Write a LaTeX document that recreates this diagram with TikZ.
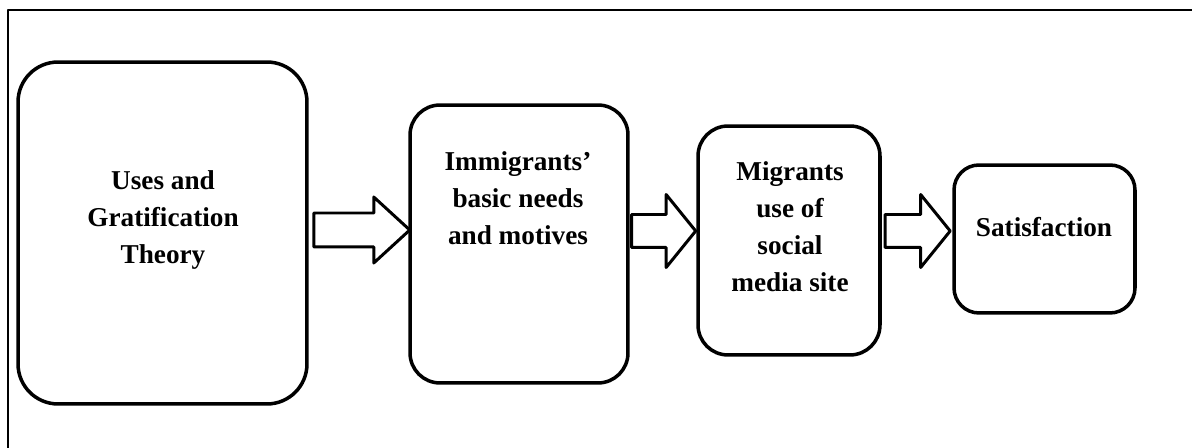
\documentclass[tikz,border=0pt]{standalone}
\usepackage{fontspec}
\setmainfont{Liberation Serif}
\usetikzlibrary{shapes.arrows}

\begin{document}
\begin{tikzpicture}[x=0.02cm, y=-0.02cm, line join=round,
    frame/.style={line width=1.2pt},
    stage/.style={draw, line width=2pt, rounded corners=0.6cm, inner sep=0pt},
    caption/.style={align=center, font=\fontsize{15.5}{21}\selectfont\bfseries},
    fatarrow/.style={draw, line width=1.7pt, single arrow, inner xsep=0pt,
      single arrow head indent=0pt, xshift=-0.12cm}]
  \useasboundingbox (0,0) rectangle (1192,448);
  \draw[frame] (8,448) -- (8,10) -- (1192,10);
  % stages
  \node[stage, rounded corners=0.8cm, minimum width=5.78cm, minimum height=6.84cm] (b1) at (162.5,233) {};
  \node[stage, minimum width=4.36cm, minimum height=5.56cm] (b2) at (519,244) {};
  \node[stage, minimum width=3.64cm, minimum height=4.58cm] (b3) at (789,240.5) {};
  \node[stage, rounded corners=0.5cm, minimum width=3.62cm, minimum height=2.96cm] (b4) at (1044.5,239) {};
  \node[caption] (t1) at (163,220) {Uses and\\Gratification\\Theory};
  \node[caption] (t2) at (518,198) {Immigrants'\\basic needs\\and motives};
  \node[caption] (t3) at (790,227) {Migrants\\use of\\social\\media site};
  \node[caption] (t4) at (1044,227) {Satisfaction};
  % arrows
  \path (b1.east |- 0,230) -- (b2.west |- 0,230)
    node[midway, fatarrow, minimum height=1.92cm, inner ysep=0.31cm,
      single arrow head extend=0.32cm, single arrow tip angle=85] (a1) {};
  \path (b2.east |- 0,231) -- (b3.west |- 0,231)
    node[midway, fatarrow, minimum height=1.28cm, inner ysep=0.3cm,
      single arrow head extend=0.4cm, single arrow tip angle=102] (a2) {};
  \path (b3.east |- 0,231) -- (b4.west |- 0,231)
    node[midway, fatarrow, minimum height=1.3cm, inner ysep=0.3cm,
      single arrow head extend=0.4cm, single arrow tip angle=102] (a3) {};
\end{tikzpicture}
\end{document}
